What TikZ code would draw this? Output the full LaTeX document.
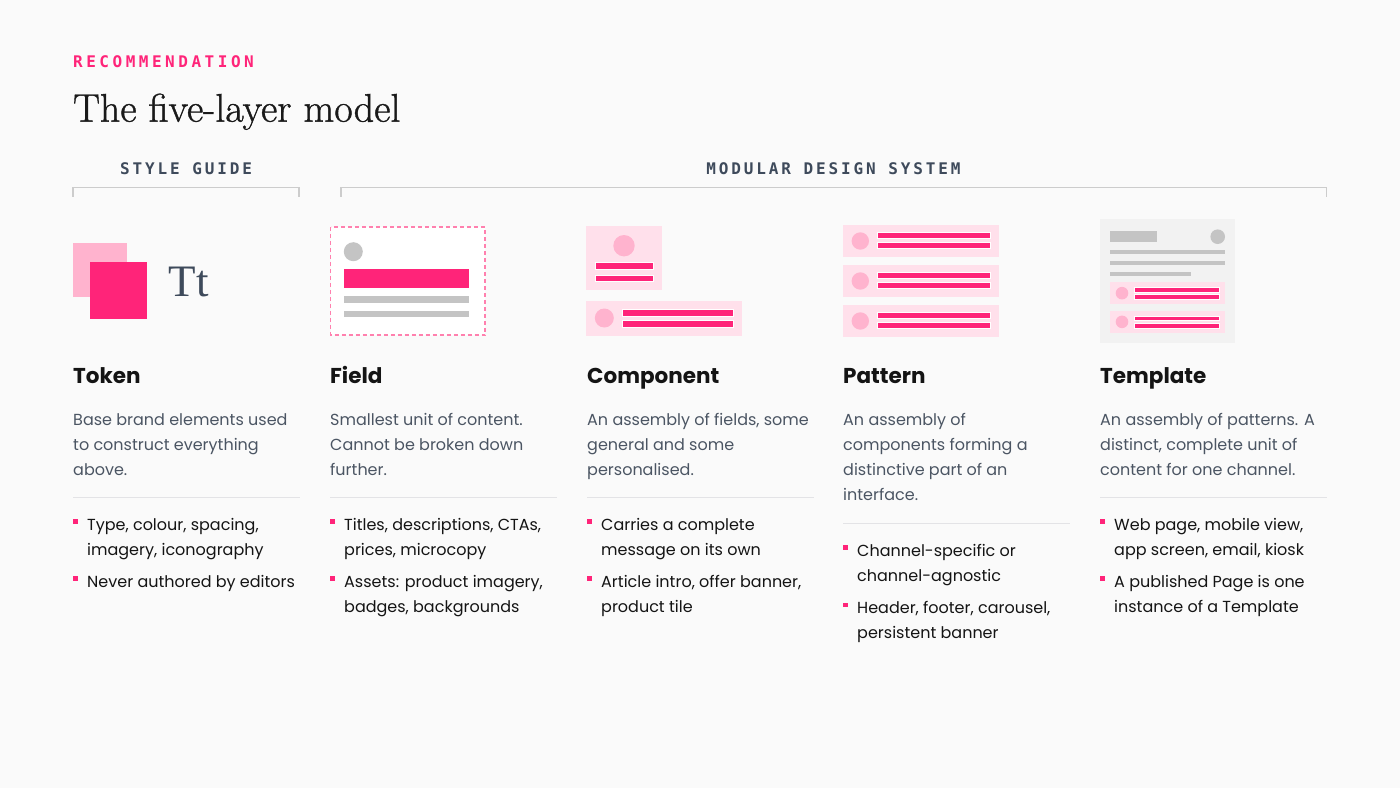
\documentclass[tikz,border=0pt]{standalone}
\usepackage{fontspec}
\setmainfont{Poppins}
\newfontfamily\monofont{DejaVu Sans Mono}[LetterSpace=18]
\newfontfamily\recfont{DejaVu Sans Mono}[LetterSpace=22]
\newfontfamily\tfont{Liberation Serif}
\newfontfamily\headfont{Latin Modern Roman}[FakeBold=1]
\definecolor{bgc}{HTML}{FAFAFA}
\definecolor{pinkc}{HTML}{FF2479}
\definecolor{pinklt}{HTML}{FFB3CE}
\definecolor{pinkbg}{HTML}{FFE0EB}
\definecolor{pinkdash}{HTML}{FF80AE}
\definecolor{grayc}{HTML}{C4C4C4}
\definecolor{graybg}{HTML}{F2F2F2}
\definecolor{slate}{HTML}{4B5563}
\definecolor{labc}{HTML}{3E4A5B}
\definecolor{darkc}{HTML}{141414}
\definecolor{linec}{HTML}{CCCCCC}
\definecolor{divc}{HTML}{E3E3E6}
\tikzset{
  layertitle/.style={anchor=base west, inner sep=0, font=\fontsize{21.5}{25}\selectfont\bfseries, text=darkc},
  desc/.style={anchor=north west, inner sep=0, align=left, font=\fontsize{16}{25}\selectfont, text=slate},
  bullettext/.style={anchor=north west, inner sep=0, align=left, font=\fontsize{16}{25}\selectfont, text=darkc},
  bulletsq/.style={fill=pinkc},
  divider/.style={draw=divc, line width=1.2},
  bracket/.style={draw=linec, line width=1.2},
  caplabel/.style={anchor=base, inner sep=0, font=\monofont\bfseries\fontsize{16}{20}\selectfont, text=labc},
  bar/.style={fill=pinkc, draw=white, line width=0.8},
  card/.style={fill=pinkbg},
  dot/.style={fill=pinklt},
  gbar/.style={fill=grayc}
}
\begin{document}
\begin{tikzpicture}[x=1pt,y=-1pt]
\fill[bgc] (0,0) rectangle (1400,788);
\useasboundingbox (0,0) rectangle (1400,788);

% header
\node[anchor=base west, inner sep=0, font=\recfont\bfseries\fontsize{16}{20}\selectfont, text=pinkc] (rec) at (73,67) {RECOMMENDATION};
\node[anchor=base west, inner sep=0, font=\headfont\fontsize{40}{44}\selectfont, text=black!90] (title) at (73,121.7) {The five-layer model};

% group labels and brackets
\node[caplabel] (sg) at (186,174) {STYLE GUIDE};
\node[caplabel] (mds) at (833.5,174) {MODULAR DESIGN SYSTEM};
\coordinate (sgA) at (73,196.5);
\coordinate (sgB) at (299,196.5);
\coordinate (mdA) at (341,196.5);
\coordinate (mdB) at (1326.5,196.5);
\draw[bracket] (sgA) |- (299,187.3) -- (sgB);
\draw[bracket] (mdA) |- (1326.5,187.3) -- (mdB);

% ---------- Token icon ----------
\fill[pinklt] (73,243) rectangle (127,297);
\fill[pinkc] (90,262) rectangle (147.3,318.5);
\node[anchor=base west, inner sep=0, font=\tfont\fontsize{45}{45}\selectfont, text=labc] (tt) at (168.5,296) {Tt};

% ---------- Field icon ----------
\draw[pinkdash, fill=white, line width=1.2, dash pattern=on 4pt off 3pt] (330.5,227) rectangle (485,335);
\fill[grayc] (353.3,251.7) circle (9.5);
\fill[pinkc] (344,269.3) rectangle (469.3,287.7);
\fill[grayc] (344,296.3) rectangle (469.3,302.7);
\fill[grayc] (344,310.7) rectangle (469.3,317.3);

% ---------- Component icon ----------
\fill[card] (586,226) rectangle (662,290.3);
\fill[dot] (624,245.7) circle (10.7);
\filldraw[bar] (595,262.7) rectangle (653.3,269);
\filldraw[bar] (595,275) rectangle (653.3,281.7);
\fill[card] (586,300.7) rectangle (741.7,335.7);
\fill[dot] (604.3,318) circle (9.5);
\filldraw[bar] (622.3,309.3) rectangle (733.7,316);
\filldraw[bar] (622.3,320.3) rectangle (733.7,327);

% ---------- Pattern icon ----------
\foreach \t in {225,265,305}{
  \fill[card] (843,\t) rectangle (998.7,\t+32);
  \fill[dot] (860.3,\t+16) circle (8.7);
  \filldraw[bar] (877.7,\t+7.7) rectangle (990.3,\t+13.7);
  \filldraw[bar] (877.7,\t+17.3) rectangle (990.3,\t+23.3);
}

% ---------- Template icon ----------
\fill[graybg] (1100,219) rectangle (1235,342.7);
\fill[grayc] (1110,231) rectangle (1156.7,241.7);
\fill[grayc] (1217.7,236.7) circle (7.3);
\fill[grayc] (1110,250) rectangle (1225,254);
\fill[grayc] (1110,261) rectangle (1225,265);
\fill[grayc] (1110,271.7) rectangle (1191,275.7);
\foreach \t in {282.3,311}{
  \fill[card] (1110,\t) rectangle (1225,\t+21.7);
  \fill[dot] (1122,\t+10.85) circle (6.3);
  \filldraw[bar] (1134.3,\t+5) rectangle (1219.3,\t+9.7);
  \filldraw[bar] (1134.3,\t+12.4) rectangle (1219.3,\t+17.1);
}

% ---------- Titles ----------
\node[layertitle] (t1) at (73,383.3) {Token};
\node[layertitle] (t2) at (330,383.3) {Field};
\node[layertitle] (t3) at (587,383.3) {Component};
\node[layertitle] (t4) at (843,383.3) {Pattern};
\node[layertitle] (t5) at (1100,383.3) {Template};

% ---------- Descriptions ----------
\node[desc] (d1) at (73,408) {\strut Base brand elements used\\\strut to construct everything\\\strut above.};
\node[desc] (d2) at (330,408) {\strut Smallest unit of content.\\\strut Cannot be broken down\\\strut further.};
\node[desc] (d3) at (587,408) {\strut An assembly of fields, some\\\strut general and some\\\strut personalised.};
\node[desc] (d4) at (843,408) {\strut An assembly of\\\strut components forming a\\\strut distinctive part of an\\\strut interface.};
\node[desc] (d5) at (1100,408) {\strut An assembly of patterns. A\\\strut distinct, complete unit of\\\strut content for one channel.};

% ---------- Dividers ----------
\draw[divider] (73,497.7) -- (300,497.7);
\draw[divider] (330,497.7) -- (557,497.7);
\draw[divider] (587,497.7) -- (814,497.7);
\draw[divider] (843,523.3) -- (1070,523.3);
\draw[divider] (1100,497.7) -- (1327,497.7);

% ---------- Bullets ----------
% Token
\fill[bulletsq] (73,519.3) rectangle ++(4.7,4.7);
\node[bullettext] (b11) at (87,513.2) {\strut Type, colour, spacing,\\\strut imagery, iconography};
\fill[bulletsq] (73,576.3) rectangle ++(4.7,4.7);
\node[bullettext] (b12) at (87,570.2) {\strut Never authored by editors};
% Field
\fill[bulletsq] (330,519.3) rectangle ++(4.7,4.7);
\node[bullettext] (b21) at (344,513.2) {\strut Titles, descriptions, CTAs,\\\strut prices, microcopy};
\fill[bulletsq] (330,576.3) rectangle ++(4.7,4.7);
\node[bullettext] (b22) at (344,570.2) {\strut Assets: product imagery,\\\strut badges, backgrounds};
% Component
\fill[bulletsq] (587,519.3) rectangle ++(4.7,4.7);
\node[bullettext] (b31) at (601,513.2) {\strut Carries a complete\\\strut message on its own};
\fill[bulletsq] (587,576.3) rectangle ++(4.7,4.7);
\node[bullettext] (b32) at (601,570.2) {\strut Article intro, offer banner,\\\strut product tile};
% Pattern
\fill[bulletsq] (843,545.3) rectangle ++(4.7,4.7);
\node[bullettext] (b41) at (857,538.5) {\strut Channel-specific or\\\strut channel-agnostic};
\fill[bulletsq] (843,602.6) rectangle ++(4.7,4.7);
\node[bullettext] (b42) at (857,595.8) {\strut Header, footer, carousel,\\\strut persistent banner};
% Template
\fill[bulletsq] (1100,519.3) rectangle ++(4.7,4.7);
\node[bullettext] (b51) at (1114,513.2) {\strut Web page, mobile view,\\\strut app screen, email, kiosk};
\fill[bulletsq] (1100,576.3) rectangle ++(4.7,4.7);
\node[bullettext] (b52) at (1114,570.2) {\strut A published Page is one\\\strut instance of a Template};
\end{tikzpicture}
\end{document}
